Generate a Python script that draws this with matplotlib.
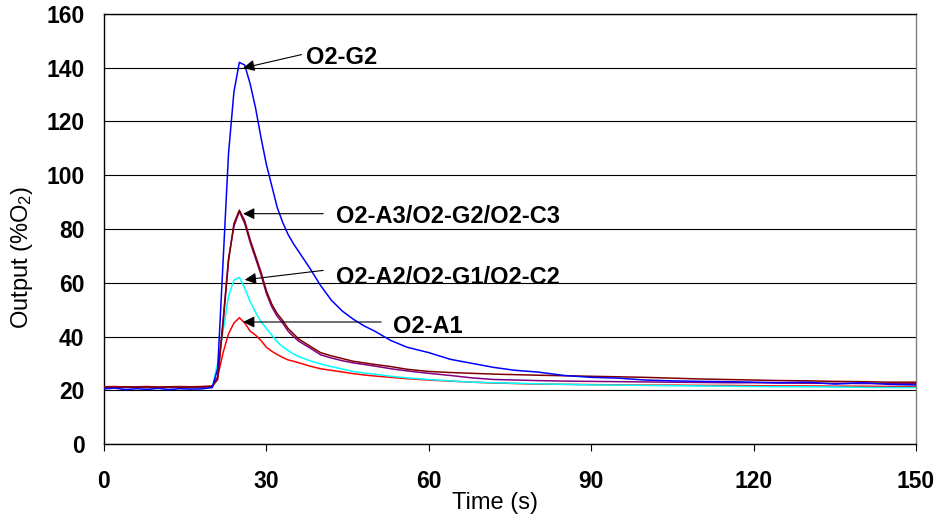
#oxygen sensor output vs time, recreated from the figure
import matplotlib
matplotlib.use('Agg')
import matplotlib.pyplot as plt

plt.rcParams['font.family'] = ['Liberation Sans', 'DejaVu Sans']
plt.rcParams['mathtext.fontset'] = 'custom'
plt.rcParams['mathtext.rm'] = 'Liberation Sans'
plt.rcParams['mathtext.default'] = 'regular'

#data
time_s = [0, 2, 4, 6, 8, 10, 12, 14, 16, 18,
          20, 21, 22, 23, 24, 25, 26, 27, 28, 29, 30, 31, 32, 33, 34, 35, 36,
          38, 40, 42, 44, 46, 48, 50, 53, 56,
          60, 64, 68, 72, 76, 80,
          85, 90, 95, 100, 105, 110, 115, 120, 125, 130, 135, 140, 145, 150]

o2_g2 = [20.5, 20.8, 20.2, 20.6, 20.3, 20.7, 20.2, 20.6, 20.4, 20.5,
         21.0, 28, 68, 108, 131, 142, 141, 134, 125, 114, 104, 96, 88, 82.5, 78, 74.5, 71.5,
         65.5, 59, 53.5, 49.5, 46.5, 44, 42, 38.5, 36,
         34, 31.5, 30, 28.5, 27.4, 26.8,
         25.5, 24.8, 24.5, 23.8, 23.5, 23.3, 23.2, 23.0, 22.8, 23.0, 22.3, 22.8, 22.2, 22.0]

o2_a3 = [21.2, 21.1, 21.3, 21.2, 21.2, 21.1, 21.3, 21.2, 21.2, 21.3,
         21.5, 24, 45, 68, 82, 87, 83, 76, 70, 64, 57, 52, 48.5, 46, 43, 41, 39,
         36.5, 34, 32.8, 31.8, 30.8, 30.2, 29.6, 28.8, 27.8,
         27.0, 26.6, 26.3, 26.0, 25.8, 25.6,
         25.4, 25.2, 25.0, 24.8, 24.5, 24.2, 24.0, 23.8, 23.6, 23.5, 23.3, 23.2, 23.0, 23.0]

o2_g1 = [21.0, 21.1, 21.0, 21.2, 21.0, 21.1, 21.0, 21.1, 21.0, 21.1,
         21.4, 25, 46, 69, 81, 86.5, 82, 75, 69, 63, 56, 51, 47.5, 45, 42, 40, 38.2,
         35.8, 33.2, 32.0, 31.0, 30.2, 29.6, 29.0, 28.0, 27.2,
         26.3, 25.5, 24.6, 24.0, 23.8, 23.6,
         23.4, 23.3, 23.2, 23.1, 23.0, 22.9, 22.8, 22.8, 22.7, 22.6, 22.6, 22.5, 22.5, 22.5]

o2_a2 = [21.0, 20.9, 21.0, 21.1, 21.0, 20.9, 21.0, 21.1, 21.0, 21.0,
         21.2, 30, 42, 55, 61, 62, 58, 53, 49, 45.5, 43, 40.5, 38, 36.2, 34.8, 33.5, 32.5,
         31, 29.8, 28.8, 27.9, 27.0, 26.4, 26.0, 25.2, 24.6,
         24.0, 23.5, 23.0, 22.8, 22.6, 22.4,
         22.2, 22.0, 21.9, 21.8, 21.7, 21.6, 21.5, 21.4, 21.3, 21.3, 21.2, 21.1, 21.0, 21.0]

o2_a1 = [21.3, 21.4, 21.2, 21.3, 21.4, 21.2, 21.3, 21.4, 21.3, 21.4,
         21.5, 25, 34, 41, 45, 47, 45, 42, 40.5, 38.5, 36, 34.5, 33.3, 32.2, 31.3, 30.8, 30.2,
         29.0, 28.0, 27.4, 26.8, 26.2, 25.7, 25.3, 24.8, 24.3,
         23.8, 23.4, 23.0, 22.7, 22.5, 22.3,
         22.2, 22.1, 22.0, 21.9, 21.9, 21.8, 21.8, 21.7, 21.6, 21.6, 21.5, 21.5, 21.4, 21.4]

#plot
fig = plt.figure(figsize=[9.36, 5.16], dpi=100)
ax = fig.add_axes([104/936, 1-444/516, 812/936, 430/516])

ax.grid(axis='y', color='black', linewidth=0.8, zorder=0)
ax.plot(time_s, o2_a1, color='#FF0000', linewidth=1.1, zorder=3)
ax.plot(time_s, o2_a2, color='#00FFFF', linewidth=1.1, zorder=3)
ax.plot(time_s, o2_g1, color='#800080', linewidth=1.1, zorder=3)
ax.plot(time_s, o2_a3, color='#800000', linewidth=1.1, zorder=3)
ax.plot(time_s, o2_g2, color='#0000FF', linewidth=1.1, zorder=3)

ax.set_xlim(0, 150)
ax.set_ylim(0, 160)
ax.set_xticks([0, 30, 60, 90, 120, 150])
ax.set_yticks([0, 20, 40, 60, 80, 100, 120, 140, 160])
ax.tick_params(axis='x', direction='out', length=5, width=0.8, pad=14, labelsize=16.5)
ax.tick_params(axis='y', length=0, pad=14, labelsize=16.5)
for lab in ax.get_xticklabels() + ax.get_yticklabels():
    lab.set_fontweight('bold')

ax.spines['right'].set_color('#808080')
for s in ['left', 'bottom', 'top']:
    ax.spines[s].set_color('black')
for s in ax.spines:
    ax.spines[s].set_linewidth(1.0)

#arrows and labels
arrow = dict(arrowstyle='-|>', color='black', lw=0.8, mutation_scale=17, shrinkA=0, shrinkB=0)
ax.annotate('', xy=(25.7, 139.9), xytext=(36.5, 144.9), arrowprops=arrow, zorder=5)
ax.text(37.4, 143.9, 'O2-G2', fontsize=17, fontweight='bold', va='center', ha='left')

ax.annotate('', xy=(25.7, 85.7), xytext=(40.5, 85.7), arrowprops=arrow, zorder=5)
ax.text(42.9, 84.7, 'O2-A3/O2-G2/O2-C3', fontsize=17, fontweight='bold', va='center', ha='left')

ax.annotate('', xy=(26.0, 61.1), xytext=(40.5, 64.6), arrowprops=arrow, zorder=5)
ax.text(42.9, 61.8, 'O2-A2/O2-G1/O2-C2', fontsize=17, fontweight='bold', va='center', ha='left')

ax.annotate('', xy=(25.7, 45.4), xytext=(51.2, 45.4), arrowprops=arrow, zorder=5)
ax.text(53.4, 43.8, 'O2-A1', fontsize=17, fontweight='bold', va='center', ha='left')

#axis titles
fig.text(22/936, 1-257/516, 'Output (%O$_2$)', fontsize=17, rotation=90, ha='center', va='center')
fig.text(495/936, 1-503/516, 'Time (s)', fontsize=17, ha='center', va='center')

plt.savefig('out.png', dpi=100)
